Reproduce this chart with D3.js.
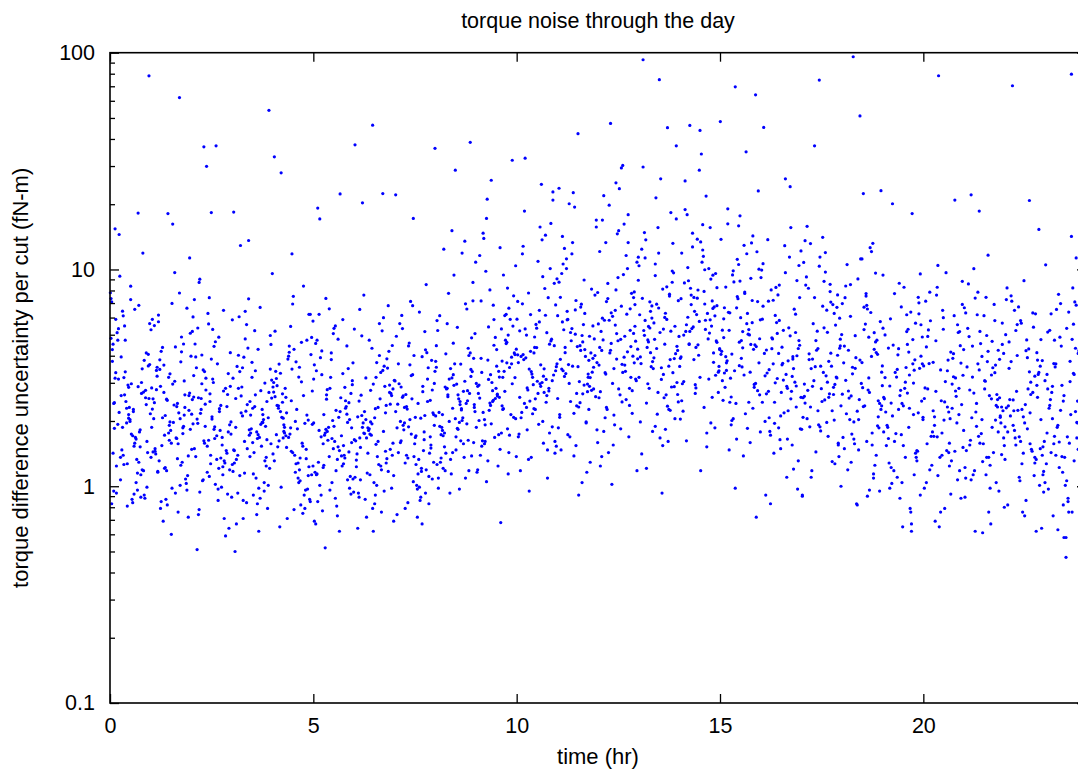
<!DOCTYPE html>
<html>
<head>
<meta charset="utf-8">
<script src="https://cdn.jsdelivr.net/npm/d3@7"></script>
<style>
body { margin: 0; background: #fff; }
text { font-family: "Liberation Sans", Arial, Helvetica, sans-serif; fill: #000; }
</style>
</head>
<body>
<svg id="viz" width="1078" height="774"></svg>
<script>
// one array per hour of the day: minute of the cut, then the torque difference
// uncertainty of that cut in hundredths of fN-m (minute, value, minute, value, ...)
var h00 = [1,734,0,781,44,152,27,286,9,93,53,412,18,187,36,655,5,241,49,118,22,337,40,96,13,219,58,563,31,174,7,1540,46,268,25,81,16,395,55,143,34,226,2,708,42,129,20,317,51,88,11,472,29,203,38,165,14,931,57,254,15,107,47,348,24,196,33,84,8,589,52,277,19,139,41,1820,28,231,4,452,54,99,12,312,37,168,21,264,45,113,30,726,6,185,50,381,17,147,35,92,26,293,10,511,59,216,39,133,48,1190,23,246,32,87,3,427,43,178,56,359,9,124,27,206,18,642,36,158,46,301,5,95,53,238,22,472,40,115,11,193,30,837,49,272,15,136,58,364,2,83,34,221,21,549,44,182,25,127,7,315,52,256,38,104,13,1450,29,199,56,406,4,142,41,288,19,611,33,171,50,91,8,334,24,229,47,119,1,481,57,7820,16,262,35,153,3,377,45,89,27,214,12,533,54,161,31,297,20,126,42,683,6,243];
var h01 = [33,197,8,342,51,108,19,271,40,76,2,589,27,163,56,224,12,131,45,417,23,252,35,968,6,149,49,306,15,85,38,233,58,508,29,181,10,117,44,375,21,212,3,144,53,663,31,98,14,289,47,186,25,1810,0,136,39,241,17,437,55,72,9,322,30,158,43,205,20,121,5,551,50,264,36,93,13,383,26,176,57,1130,41,218,7,141,32,296,18,69,48,453,1,187,24,249,54,112,11,616,37,167,28,330,46,129,4,205,22,87,59,398,34,237,16,154,42,779,8,279,52,103,27,191,13,346,39,134,2,227,30,60,45,488,20,172,56,262,10,116,42,6210,35,305,6,145,49,213,24,82,15,419,58,183,32,1620,3,253,44,125,19,362,53,96,28,198,11,574,40,157,1,284,23,118,50,231,36,439,14,79,47,175,26,318,5,243,55,138,31,697,17,207,43,101,9,354,38,166,57,269,21,122,0,527,48,189];
var h02 = [41,228,6,137,29,386,53,92,14,254,37,171,2,604,46,123,21,315,58,198,10,74,33,442,25,163,50,283,17,107,8,51,43,236,31,529,4,149,56,192,19,338,39,86,27,267,12,902,48,131,0,215,35,464,23,116,54,178,15,297,18,3680,44,99,7,352,30,204,51,146,26,741,3,258,40,121,20,189,57,413,22,2990,11,78,47,275,34,166,1,518,28,139,52,233,16,106,38,367,9,195,45,155,24,627,59,89,32,301,13,217,49,128,5,453,42,181,27,246,55,64,36,3720,18,162,3,324,46,113,30,209,11,871,52,142,21,278,39,97,6,395,29,1830,58,174,14,226,43,135,25,561,1,251,48,71,34,188,17,344,56,119,8,204,40,487,23,153,53,265,12,94,31,312,45,168,4,726,37,133,20,239,50,59,15,403,33,183,0,148,57,289,26,111,9,537,41,221,19,158,54,331,35,102,2,194,47,648,28,127,10,256];
var h03 = [27,213,2,1840,48,131,15,352,37,83,5,187,56,496,22,149,4,50,42,276,11,112,33,233,19,641,51,164,8,93,29,318,45,197,0,126,38,428,16,71,58,255,25,172,12,1290,47,104,34,341,3,146,53,207,21,557,41,88,9,283,30,159,55,121,17,394,44,226,6,67,36,178,24,732,50,136,13,261,39,98,1,315,28,184,57,451,18,115,46,203,32,143,10,605,52,79,26,246,40,168,7,357,35,109,20,222,59,957,43,153,14,287,31,91,49,189,23,434,3,128,54,271,39,62,11,338,27,176,45,214,1,117,33,522,57,157,16,86,48,299,22,238,8,139,24,1360,42,193,29,373,53,101,5,254,37,166,19,478,50,124,13,218,36,74,58,309,25,182,2,147,41,668,30,229,47,95,9,402,18,161,34,264,54,5420,6,133,44,197,21,84,56,347,15,211,31,114,0,586,38,173,51,246,26,137];
var h04 = [36,184,14,267,52,112,23,398,2,3310,44,153,8,229,31,78,57,486,19,171,40,135,5,314,12,2790,48,96,27,248,16,192,55,621,34,127,0,287,43,158,21,71,9,366,50,213,29,143,3,519,38,104,58,275,17,176,28,1180,46,91,11,332,33,199,53,123,24,443,6,236,41,82,15,167,30,752,49,148,1,301,37,109,20,218,56,405,26,186,10,65,45,262,32,139,59,578,13,208,39,119,4,339,25,174,51,97,18,283,42,461,7,152,35,226,54,87,22,386,47,195,2,131,29,693,14,244,57,113,38,319,9,162,44,75,19,257,31,428,0,141,52,202,26,546,40,106,6,291,16,179,49,134,34,375,11,221,55,85,23,168,45,838,3,259,37,128,28,347,58,193,12,99,42,303,20,151,50,472,8,235,33,116,17,187,53,621,27,145,1,272,47,79,39,354,15,206,59,124,24,415,5,173];
var h05 = [21,163,47,248,6,1920,33,118,12,327,55,92,28,201,3,456,41,138,17,176,9,1710,50,107,24,283,36,152,1,69,58,371,15,214,44,127,30,535,8,181,53,98,19,264,38,146,26,412,4,113,48,233,34,81,17,52,57,307,11,169,42,124,23,658,0,196,32,88,51,349,14,157,39,221,27,104,5,472,46,135,20,279,56,186,35,73,10,392,29,149,52,243,2,116,43,587,16,172,59,94,25,318,37,208,7,129,49,444,31,161,13,77,40,256,22,187,54,111,1,363,45,139,18,735,33,224,9,101,57,294,27,166,38,62,4,341,50,197,15,125,29,506,44,154,6,85,55,268,20,179,35,133,12,421,47,229,24,96,0,312,52,144,39,2230,30,189,8,621,58,108,19,252,41,171,3,67,26,384,49,215,14,122,36,477,56,159,11,91,46,286,23,137,53,203,32,549,5,114,43,331,18,183];
var h06 = [14,176,39,124,52,293,7,89,1,3760,30,207,46,145,22,472,58,112,10,263,35,161,18,72,49,351,26,194,3,132,43,599,15,221,55,98,32,318,8,167,12,2030,40,119,24,277,53,148,5,64,37,401,20,186,47,236,29,104,0,531,57,158,16,87,42,342,11,212,34,137,50,681,23,174,6,93,45,289,31,228,19,115,56,446,2,162,38,253,27,79,27,4630,13,196,48,134,33,372,9,107,54,268,21,181,41,521,4,141,28,62,59,308,17,203,36,126,51,419,25,172,44,95,7,247,32,156,14,762,46,218,1,110,39,335,22,184,56,139,11,494,30,83,52,271,18,167,35,231,3,123,48,387,24,198,42,2240,9,151,58,69,28,296,15,175,50,117,37,563,5,209,20,142,44,358,33,101,55,262,12,187,40,76,26,433,0,164,47,128,17,316,53,239,31,91,8,654,43,179,23,113,57,281];
var h07 = [44,212,17,139,5,367,33,97,52,249,24,174,11,534,39,121,58,298,20,188,3,74,47,413,29,157,14,231,55,108,36,636,8,199,42,146,26,327,50,83,16,265,1,2210,31,171,57,129,21,458,45,93,9,287,38,206,53,155,23,712,4,239,34,114,49,352,13,182,40,67,28,401,56,218,19,135,7,563,43,164,32,101,0,306,25,253,51,142,27,1720,12,191,37,86,54,381,18,227,46,119,2,492,30,168,41,273,15,79,59,339,22,203,35,133,10,614,48,246,27,105,6,297,43,178,53,150,20,444,38,89,12,261,57,214,31,126,46,852,3,186,24,324,50,111,17,233,40,396,8,159,33,72,55,278,14,196,28,137,44,517,1,221,36,99,22,363,52,169,11,257,39,117,26,681,58,191,5,143,48,312,19,84,34,241,45,426,9,162,30,208,59,3620,15,128,41,289];
var h08 = [9,187,36,246,51,412,22,133,4,98,43,305,17,562,58,221,30,169,12,1240,47,276,25,143,1,354,39,201,55,717,14,118,33,264,6,189,48,433,20,312,41,157,27,942,57,238,11,121,35,197,2,581,52,346,18,264,44,109,24,1510,8,173,38,228,56,389,15,142,31,296,46,657,0,211,21,93,53,484,34,253,10,181,42,136,26,327,59,1080,5,219,37,162,29,2870,49,401,16,281,23,114,45,241,3,523,32,185,54,338,13,152,40,207,19,776,50,268,7,129,28,367,46,194,1,445,35,97,57,231,24,316,11,171,43,1350,18,259,53,138,6,612,38,225,27,292,48,163,15,408,51,3860,33,183,2,126,22,349,58,506,10,214,41,274,30,147,55,871,20,199,37,366,4,109,47,248,26,457,13,176,52,321,36,238,8,135,44,694,17,283,29,205,56,159,39,1190,0,377,25,229,49,118,14,287,32,541];
var h09 = [31,261,7,389,49,172,18,543,40,228,2,119,57,317,25,684,12,203,44,455,35,148,5,1160,53,297,21,236,38,378,9,162,46,821,28,254,15,105,59,429,33,339,0,187,42,613,24,276,11,1390,51,214,30,358,17,131,47,498,4,293,37,176,55,756,20,242,22,2580,39,318,8,153,26,447,58,205,14,981,45,371,32,124,3,268,50,589,19,224,41,339,27,168,10,1470,56,412,34,257,6,139,48,663,23,301,13,192,43,472,29,283,1,116,52,367,16,2110,38,235,54,548,36,68,21,327,46,184,7,716,31,266,57,405,12,157,40,943,25,249,49,353,4,201,35,1260,18,311,59,137,28,486,10,219,44,621,2,289,33,173,52,394,15,1720,24,246,47,114,37,532,8,335,55,208,20,805,42,274,30,427,13,161,53,3190,0,298,39,226,26,587,48,143,17,382,5,255,58,1040,34,319,22,194,45,461];
var h10 = [23,318,48,452,6,207,37,1370,15,284,56,161,29,536,2,372,12,3260,43,244,20,619,52,188,9,405,34,297,59,905,17,133,40,348,4,521,27,226,50,1630,13,391,31,268,45,147,1,712,22,329,55,445,38,199,8,1180,47,283,18,95,33,573,58,356,11,241,41,817,25,412,3,174,53,2090,30,305,14,498,44,262,21,136,57,686,35,363,7,219,49,1010,26,437,16,278,39,158,0,590,54,326,36,2470,19,247,46,741,10,384,32,193,51,477,24,294,42,1440,5,118,28,558,57,341,14,231,38,926,20,419,47,275,2,169,33,648,52,307,11,1860,27,253,44,511,6,397,56,142,17,779,39,322,23,216,50,468,9,1280,35,289,59,367,15,182,42,615,29,436,4,257,53,2280,21,338,45,109,12,532,37,301,55,863,25,228,1,404,48,176,31,1090,18,347,40,271,8,694,58,153,26,488,43,311,34,1570];
var h11 = [52,389,19,246,34,671,7,1420,45,318,26,503,58,182,11,437,39,293,2,874,30,356,48,129,15,588,23,2260,55,401,37,267,4,744,42,198,20,469,51,336,13,1120,33,243,0,612,46,381,27,154,9,527,57,1690,17,298,40,427,24,217,6,958,53,354,31,91,14,641,44,273,36,496,1,186,22,1330,49,412,10,321,59,783,28,235,38,557,5,147,30,4230,16,364,47,289,25,1940,54,478,3,208,35,692,12,331,43,116,21,534,56,259,8,1060,41,397,29,441,18,169,50,812,32,304,2,2370,46,226,14,586,58,372,24,138,37,463,10,1250,53,281,27,719,6,347,42,196,19,512,34,423,57,1570,0,254,26,651,48,317,15,173,39,894,4,385,31,232,52,549,21,1180,44,296,11,413,36,104,55,762,8,341,28,268,17,2010,47,492,3,214,40,627,22,358,59,159,13,1010,33,445,50,277,7,573,45,329];
var h12 = [5,423,38,1620,21,298,54,547,12,711,46,236,29,469,1,362,57,1080,33,184,16,583,43,417,8,2190,50,276,25,648,36,335,3,124,59,892,19,456,41,251,11,1330,52,507,27,386,45,169,14,734,34,2940,48,318,6,596,23,213,55,467,18,4720,39,362,2,1210,30,281,47,658,15,143,58,429,26,805,10,334,44,1790,35,245,0,561,51,398,20,102,37,947,7,473,56,307,28,1460,13,226,42,622,36,3020,53,371,4,518,24,192,49,776,17,412,32,264,59,1140,9,583,40,339,22,155,54,689,31,2360,2,437,46,283,14,862,27,506,50,217,6,1690,38,394,19,631,57,118,33,476,11,329,43,1010,25,554,1,256,52,742,16,1980,35,365,48,441,8,179,29,917,55,312,21,608,44,1330,3,273,39,492,12,231,26,2510,58,387,34,677,5,137,47,524,18,424,41,1160,23,349,53,788,10,207,30,1510];
var h13 = [31,512,6,9280,48,287,17,641,55,3720,2,395,39,183,24,1060,12,437,44,226,58,718,21,349,35,154,9,582,50,1320,28,271,14,463,41,832,0,318,53,205,19,597,30,7510,46,384,8,1480,37,256,26,692,57,423,4,141,42,4510,16,537,33,311,51,965,11,242,23,476,47,1830,3,368,38,601,20,179,56,442,29,1190,13,297,45,754,7,523,34,93,52,388,25,2140,40,264,1,618,18,356,49,873,27,215,59,491,10,1370,36,328,22,567,43,161,5,736,54,409,32,2620,15,283,47,519,24,937,58,245,38,452,9,1130,50,334,19,679,2,198,41,588,28,1560,56,301,13,473,35,812,46,224,22,391,0,1040,53,547,31,167,16,709,44,358,6,2970,26,432,57,265,39,628,11,121,49,984,20,376,36,531,4,1240,52,288,29,664,17,413,42,234,55,1710,8,497,33,352,45,769,24,189,14,546];
var h14 = [18,534,43,312,7,867,55,461,26,1380,3,248,37,693,50,412,12,1020,29,576,15,4620,58,357,21,743,46,196,9,518,34,1610,1,389,41,627,24,284,53,958,32,3410,14,451,48,716,5,222,38,583,19,1270,57,336,27,804,44,509,10,162,30,4380,51,672,2,395,35,1150,23,268,47,548,13,887,59,431,39,2180,6,304,25,619,52,186,17,762,42,478,31,1340,0,357,49,941,20,543,36,231,55,681,11,1790,28,402,45,586,4,297,33,1080,54,468,16,819,40,152,22,641,8,2560,50,373,26,737,38,529,3,1190,57,271,14,454,46,903,30,318,19,1470,52,611,1,204,36,792,24,437,43,1010,10,556,58,341,29,2870,17,689,48,257,6,498,34,1230,21,384,55,824,40,176,12,602,45,1560,27,449,2,733,53,325,37,997,15,518,31,118,49,661,8,1890,59,427,23,294];
var h15 = [0,4810,33,435,14,244,47,719,6,333,25,1114,58,479,19,205,40,627,9,371,22,6960,52,298,29,884,3,525,44,159,17,407,36,775,55,276,11,1904,28,462,48,229,5,592,38,3490,21,341,57,1003,13,147,42,528,31,389,1,1377,50,295,24,665,16,192,45,451,8,829,35,326,54,1207,22,98,39,562,4,249,27,1590,49,428,12,634,59,178,32,355,18,944,43,499,7,286,52,6390,26,733,37,216,2,419,46,1326,15,315,53,72,30,599,10,379,56,2304,23,241,41,503,20,876,34,138,51,449,6,666,44,336,27,1054,13,524,58,264,36,787,1,406,48,1428,17,201,31,470,55,711,9,342,39,1182,24,165,47,568,3,307,29,1768,53,441,14,631,42,244,19,986,57,371,33,517,11,1624,50,286,25,750,40,185,5,485,45,910,28,360,59,586,16,258,35,1292,8,396];
var h16 = [4,4520,37,328,13,179,51,512,22,826,45,274,8,425,29,149,56,1043,18,367,40,223,2,590,33,309,48,120,11,714,26,410,59,257,16,484,43,2410,6,199,31,363,54,97,21,614,38,289,0,917,47,386,14,172,36,2620,24,507,52,232,9,333,42,1141,19,142,57,447,30,271,3,677,46,321,27,847,12,207,53,400,35,1288,20,244,41,538,7,91,50,302,25,763,58,184,16,431,39,283,1,994,32,369,55,131,23,569,44,253,10,1372,48,349,28,164,56,470,15,805,34,218,5,410,49,656,21,300,38,110,53,889,12,345,43,494,26,186,59,1218,8,267,31,438,46,155,18,721,40,379,2,244,51,622,24,314,36,966,14,83,55,432,29,211,44,1561,6,323,33,524,20,195,57,742,11,274,47,396,27,582,39,165,3,1064,52,290,17,478];
var h17 = [9,277,42,791,25,192,56,433,3,1078,34,250,49,127,17,562,38,302,0,183,52,669,28,358,13,1316,45,223,21,470,58,100,32,335,6,847,40,257,19,3720,54,158,26,7480,11,408,47,286,35,973,2,208,23,519,51,319,15,118,43,707,30,246,57,444,8,1582,37,197,20,356,48,627,4,296,33,882,55,137,16,386,41,267,27,1141,12,188,59,501,36,323,1,91,46,689,24,223,53,402,10,819,39,170,18,307,50,554,5,242,31,1407,44,358,14,110,57,477,29,282,7,924,48,202,22,424,37,649,2,256,54,155,26,1036,40,377,13,232,33,538,45,130,19,742,52,316,8,205,35,1197,24,432,47,265,1,90,56,596,16,289,42,854,28,180,11,384,58,235,31,677,5,1358,49,295,21,144,38,513,14,349,53,763,27,188,43,411,4,260];
var h18 = [22,222,47,511,5,839,36,161,58,336,16,9580,13,261,41,1261,26,5110,8,119,52,406,31,233,0,696,44,176,19,350,55,95,34,560,10,255,49,962,24,147,3,443,38,278,57,2310,17,198,29,372,46,109,12,608,53,248,35,754,1,168,43,397,21,83,59,291,27,1118,6,216,39,487,50,139,15,330,32,670,54,186,9,424,40,271,23,904,48,125,2,371,33,235,56,575,18,157,45,1320,28,298,11,203,51,472,37,90,4,741,25,251,59,359,14,174,42,633,30,285,7,1053,53,209,20,392,46,114,36,683,0,266,49,463,17,165,39,316,12,852,57,226,26,382,43,1209,3,149,32,528,55,241,22,82,47,428,9,275,35,774,52,190,15,354,40,96,29,1118,58,235,19,495,44,155,5,308,37,657,24,203,50,414,13,129,31,2240];
var h19 = [7,187,38,416,21,110,53,624,2,253,30,154,46,343,14,2010,59,203,25,88,42,62,10,290,35,517,50,131,17,774,4,220,44,367,28,104,56,556,19,175,33,302,0,942,48,142,23,431,12,242,40,79,54,350,27,672,8,166,36,269,58,488,16,118,45,214,31,828,3,317,51,145,22,404,39,229,11,592,55,91,26,277,43,1810,6,191,34,353,49,136,15,448,57,247,29,65,41,636,1,178,20,319,52,218,37,530,9,128,47,383,24,864,59,208,32,283,13,103,44,475,28,241,5,154,53,702,18,335,38,187,0,536,46,113,25,262,56,398,14,211,35,618,50,146,21,346,41,76,8,434,30,235,55,954,17,161,45,299,3,499,33,136,58,367,23,226,48,565,10,98,39,326,27,173,52,744,1,257,36,451,12,122,42,67];
var h20 = [11,170,36,382,53,118,22,7830,2,284,45,612,27,139,58,325,16,209,40,92,7,526,31,245,50,107,20,828,46,2090,13,178,55,370,34,146,4,439,42,229,25,76,57,690,18,274,38,158,0,359,49,196,29,530,9,119,52,283,33,966,15,170,44,409,23,65,56,238,6,491,37,143,47,316,19,762,30,202,1,98,54,445,26,248,41,131,10,580,59,181,35,341,17,69,48,260,28,648,5,157,43,389,21,112,51,512,14,223,32,304,57,882,24,136,8,368,39,205,55,88,18,469,47,275,3,714,27,176,44,320,12,125,50,556,35,232,21,1044,58,151,6,281,40,416,16,191,31,79,53,517,1,254,25,344,46,145,9,786,37,220,59,427,20,169,42,296,4,104,29,599,52,214,14,373,38,124];
var h21 = [28,157,4,355,47,104,19,618,55,232,36,136,12,443,41,187,1,89,23,518,52,256,32,744,8,155,45,334,15,118,58,410,26,203,39,67,10,2210,49,251,21,170,34,376,2,109,56,566,17,220,43,143,30,307,6,858,50,178,24,455,38,98,14,269,53,211,0,666,27,130,46,362,18,241,59,80,33,496,9,163,40,326,22,1860,54,196,13,113,35,419,48,265,3,146,29,612,57,223,16,62,42,352,25,175,51,95,7,490,37,262,20,786,55,140,31,305,11,207,45,581,1,122,26,397,49,232,36,76,14,1008,58,167,22,344,40,253,5,535,33,136,52,385,18,189,44,690,10,107,30,281,56,451,23,158,47,236,2,630,38,125,12,319,53,208,27,61,41,466,8,278,35,1164,59,154,20,367,46,202,16,738,32,113,50,424];
var h22 = [39,148,6,350,51,101,24,565,13,223,44,128,2,726,33,184,57,94,18,401,11,7040,48,257,27,142,53,475,8,211,36,2080,21,110,59,307,15,167,41,630,30,238,4,82,55,380,23,161,46,62,16,523,38,265,0,133,50,335,28,888,12,191,43,112,35,430,5,235,56,152,20,672,47,292,31,86,9,376,53,203,25,127,42,542,17,274,58,161,3,822,37,218,22,106,49,328,14,181,32,473,55,139,7,251,45,624,26,76,52,358,19,224,40,145,1,500,34,281,57,117,10,714,29,196,48,382,16,155,38,302,54,64,23,581,2,230,44,136,31,422,12,250,50,1530,21,169,36,337,59,104,6,463,27,209,46,133,14,648,41,271,4,178,33,392,56,113,18,557,25,226,52,149,9,756,44,322,0,188,29,73,47,413,37,157];
var h23 = [15,139,42,328,4,97,31,535,55,209,20,122,8,624,47,247,26,82,36,377,2,176,52,107,13,472,38,7960,30,47,44,221,22,696,58,151,10,289,33,88,49,422,18,191,1,127,40,822,27,262,56,110,12,368,46,167,34,76,6,524,53,235,24,137,41,332,16,654,59,182,29,101,3,281,48,148,21,487,37,214,11,73,54,395,32,169,45,1130,7,251,25,116,50,316,17,187,39,76,0,1050,57,223,28,136,14,355,43,708,35,158,9,271,51,92,23,443,46,197,19,768,55,128,36,304,5,229,30,58,48,410,12,157,41,559,26,247,58,112,2,328,34,636,52,179,18,63,44,433,22,224,8,143,38,1420,53,271,31,106,15,367,47,196,3,514,42,131,24,292,57,606,10,205,33,85,50,341,20,160,39,476,6,236,27,58,45,684,13,170,56,259];

var hourBlocks = [h00,h01,h02,h03,h04,h05,h06,h07,h08,h09,h10,h11,h12,h13,h14,h15,h16,h17,h18,h19,h20,h21,h22,h23];
var xTicks = [0, 5, 10, 15, 20];
var yTicks = [0.1, 1, 10, 100];
var yMinorTicks = [0.2,0.3,0.4,0.5,0.6,0.7,0.8,0.9,2,3,4,5,6,7,8,9,20,30,40,50,60,70,80,90];

var title = "torque noise through the day";
var xLabel = "time (hr)";
var yLabel = "torque difference uncertainty per cut (fN-m)";

var points = [];
hourBlocks.forEach(function (block, hr) {
    for (var i = 0; i < block.length; i += 2) {
        points.push({ t: hr + (block[i] + 0.5) / 60, v: block[i + 1] / 100 });
    }
});

var svg = d3.select("#viz");
var margin = { top: 52.7, right: -8, bottom: 71, left: 110 };
var W = 1078, H = 774;

var x = d3.scaleLinear().domain([0, 24]).range([margin.left, W - margin.right]);
var y = d3.scaleLog().domain([0.1, 100]).range([H - margin.bottom, margin.top]);

var fs = "21.5px";

// dots
svg.append("g")
    .selectAll("circle")
    .data(points)
    .enter().append("circle")
    .attr("cx", function (d) { return x(d.t); })
    .attr("cy", function (d) { return y(d.v); })
    .attr("r", 1.6)
    .attr("fill", "#0000ff");

// axes, ticks pointing inward
svg.append("g")
    .attr("transform", "translate(0," + y.range()[0] + ")")
    .call(d3.axisBottom(x).tickValues(xTicks).tickFormat(d3.format("d"))
        .tickSizeInner(-9).tickSizeOuter(0).tickPadding(15));
svg.append("g")
    .attr("transform", "translate(0," + y.range()[1] + ")")
    .call(d3.axisTop(x).tickValues(xTicks).tickFormat("")
        .tickSizeInner(-9).tickSizeOuter(0));

svg.append("g")
    .attr("transform", "translate(" + x.range()[0] + ",0)")
    .call(d3.axisLeft(y).tickValues(yTicks).tickFormat(function (d) { return d3.format("")(d); })
        .tickSizeInner(-9).tickSizeOuter(0).tickPadding(15));
svg.append("g")
    .attr("transform", "translate(" + x.range()[0] + ",0)")
    .call(d3.axisLeft(y).tickValues(yMinorTicks).tickFormat("")
        .tickSizeInner(-5).tickSizeOuter(0));
svg.append("g")
    .attr("transform", "translate(" + x.range()[1] + ",0)")
    .call(d3.axisRight(y).tickValues(yTicks).tickFormat("")
        .tickSizeInner(-9).tickSizeOuter(0));
svg.append("g")
    .attr("transform", "translate(" + x.range()[1] + ",0)")
    .call(d3.axisRight(y).tickValues(yMinorTicks).tickFormat("")
        .tickSizeInner(-5).tickSizeOuter(0));

svg.selectAll(".domain").remove();
svg.selectAll(".tick line").attr("stroke", "#000").attr("stroke-width", 1.3);
svg.selectAll(".tick text").style("font-size", fs).attr("fill", "#000");

// frame
svg.append("rect")
    .attr("x", x.range()[0]).attr("y", y.range()[1])
    .attr("width", x.range()[1] - x.range()[0])
    .attr("height", y.range()[0] - y.range()[1])
    .attr("fill", "none").attr("stroke", "#000").attr("stroke-width", 1.6);

// labels
svg.append("text")
    .attr("x", (x.range()[0] + x.range()[1]) / 2).attr("y", 28)
    .attr("text-anchor", "middle").style("font-size", fs)
    .text(title);
svg.append("text")
    .attr("x", (x.range()[0] + x.range()[1]) / 2).attr("y", 764)
    .attr("text-anchor", "middle").style("font-size", "22px")
    .text(xLabel);
svg.append("text")
    .attr("transform", "translate(28," + (y.range()[0] + y.range()[1]) / 2 + ") rotate(-90)")
    .attr("text-anchor", "middle").style("font-size", "22px")
    .text(yLabel);
</script>
</body>
</html>
